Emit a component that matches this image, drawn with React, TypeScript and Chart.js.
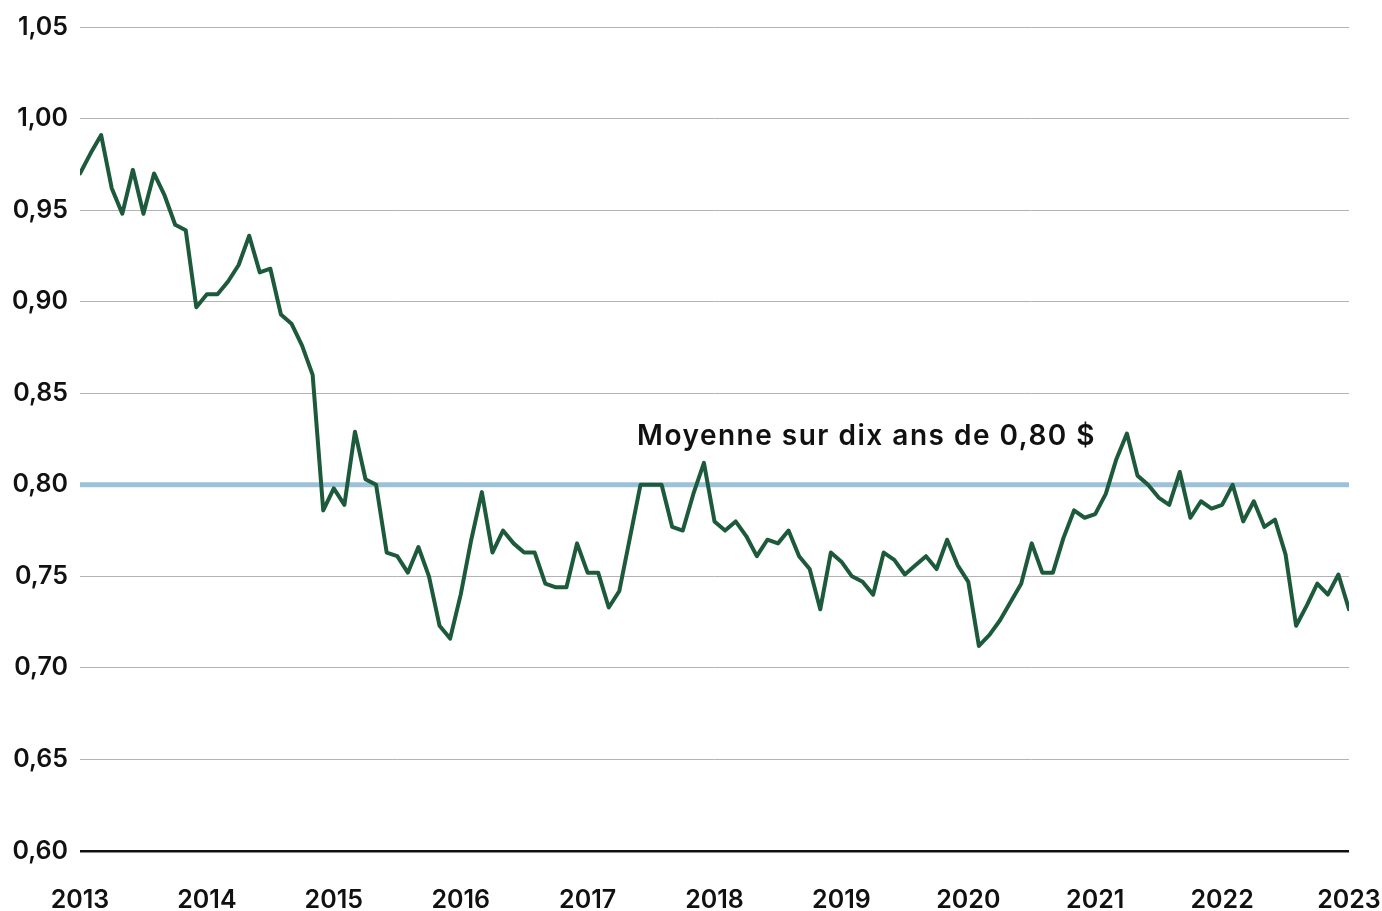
import React, { useEffect, useRef } from "react";
import { Chart, registerables } from "chart.js";

Chart.register(...registerables);

const START_YEAR = 2013;
const END_YEAR = 2023;
const yearTicks = [2013, 2014, 2015, 2016, 2017, 2018, 2019, 2020, 2021, 2022, 2023];

// Monthly exchange rate, Jan 2013 .. Jan 2023
const rateValues = [
  0.970, 0.981, 0.991, 0.962, 0.948, 0.972, 0.948, 0.970, 0.958, 0.942, 0.939, 0.897,
  0.904, 0.904, 0.911, 0.920, 0.936, 0.916, 0.918, 0.893, 0.888, 0.876, 0.860, 0.786,
  0.798, 0.789, 0.829, 0.803, 0.800, 0.763, 0.761, 0.752, 0.766, 0.750, 0.723, 0.716,
  0.740, 0.770, 0.796, 0.763, 0.775, 0.768, 0.763, 0.763, 0.746, 0.744, 0.744, 0.768,
  0.752, 0.752, 0.733, 0.742, 0.771, 0.800, 0.800, 0.800, 0.777, 0.775, 0.795, 0.812,
  0.780, 0.775, 0.780, 0.772, 0.761, 0.770, 0.768, 0.775, 0.761, 0.754, 0.732, 0.763,
  0.758, 0.750, 0.747, 0.740, 0.763, 0.759, 0.751, 0.756, 0.761, 0.754, 0.770, 0.756,
  0.747, 0.712, 0.718, 0.726, 0.736, 0.746, 0.768, 0.752, 0.752, 0.771, 0.786, 0.782,
  0.784, 0.795, 0.814, 0.828, 0.805, 0.800, 0.793, 0.789, 0.807, 0.782, 0.791, 0.787,
  0.789, 0.800, 0.780, 0.791, 0.777, 0.781, 0.762, 0.723, 0.734, 0.746, 0.740, 0.751,
  0.732,
];

const averageValue = 0.8;
const averageLabel = "Moyenne sur dix ans de 0,80 $";
const averageLabelX = 2017.39;
const averageLabelY = 0.8215;

const Y_MIN = 0.6;
const Y_MAX = 1.05;
const Y_STEP = 0.05;

const FONT = "Inter, 'Noto Sans', sans-serif";

export default function App() {
  const canvasRef = useRef<HTMLCanvasElement | null>(null);

  useEffect(() => {
    const canvas = canvasRef.current;
    if (!canvas) return;

    const lineData = rateValues.map((v, i) => ({ x: START_YEAR + i / 12, y: v }));
    const avgData = [
      { x: START_YEAR, y: averageValue },
      { x: END_YEAR, y: averageValue },
    ];

    const labelPlugin = {
      id: "avgLabel",
      afterDatasetsDraw(chart: any) {
        const { ctx, scales } = chart;
        const px = scales.x.getPixelForValue(averageLabelX);
        const py = scales.y.getPixelForValue(averageLabelY);
        ctx.save();
        ctx.font = `600 28px ${FONT}`;
        try {
          (ctx as any).letterSpacing = "1.5px";
        } catch (e) {}
        ctx.fillStyle = "#111111";
        ctx.textAlign = "left";
        ctx.textBaseline = "alphabetic";
        ctx.fillText(averageLabel, px, py);
        ctx.restore();
      },
    };

    const chart = new Chart(canvas, {
      type: "line",
      data: {
        datasets: [
          {
            label: "Taux",
            data: lineData,
            borderColor: "#1c5a3b",
            borderWidth: 4,
            pointRadius: 0,
            tension: 0,
            borderJoinStyle: "round",
            borderCapStyle: "round",
            order: 0,
          },
          {
            label: "Moyenne",
            data: avgData,
            borderColor: "#9cc2d8",
            borderWidth: 5,
            pointRadius: 0,
            tension: 0,
            order: 1,
          },
        ],
      },
      options: {
        responsive: false,
        animation: false,
        layout: { padding: { top: 26, right: 0, left: 0, bottom: 0 } },
        plugins: {
          legend: { display: false },
          tooltip: { enabled: false },
        },
        scales: {
          x: {
            type: "linear",
            min: START_YEAR,
            max: END_YEAR,
            afterBuildTicks: (scale: any) => {
              scale.ticks = yearTicks.map((v) => ({ value: v }));
            },
            afterFit: (scale: any) => {
              scale.height = 60;
              scale.paddingRight = 33;
              scale.paddingLeft = 0;
            },
            grid: { display: false, drawTicks: false },
            border: { display: false },
            ticks: {
              padding: 34,
              color: "#111111",
              font: { family: FONT, size: 25, weight: "600" },
              maxRotation: 0,
              autoSkip: false,
              callback: (v: any) => String(v),
            },
          },
          y: {
            min: Y_MIN,
            max: Y_MAX,
            afterFit: (scale: any) => {
              scale.width = 80;
            },
            border: { display: false },
            grid: {
              drawTicks: false,
              color: (ctx: any) =>
                ctx.tick && ctx.tick.value < Y_MIN + 0.001 ? "#111111" : "#b3b3b3",
              lineWidth: (ctx: any) =>
                ctx.tick && ctx.tick.value < Y_MIN + 0.001 ? 2.5 : 1,
            },
            ticks: {
              stepSize: Y_STEP,
              padding: 12,
              color: "#111111",
              font: { family: FONT, size: 25, weight: "600" },
              callback: (v: any) => Number(v).toFixed(2).replace(".", ","),
            },
          },
        },
      },
      plugins: [labelPlugin],
    } as any);

    return () => chart.destroy();
  }, []);

  return (
    <div style={{ position: "fixed", left: 0, top: 0, width: 1382, height: 911, background: "#ffffff" }}>
      <canvas ref={canvasRef} width={1382} height={911} style={{ display: "block" }} />
    </div>
  );
}
